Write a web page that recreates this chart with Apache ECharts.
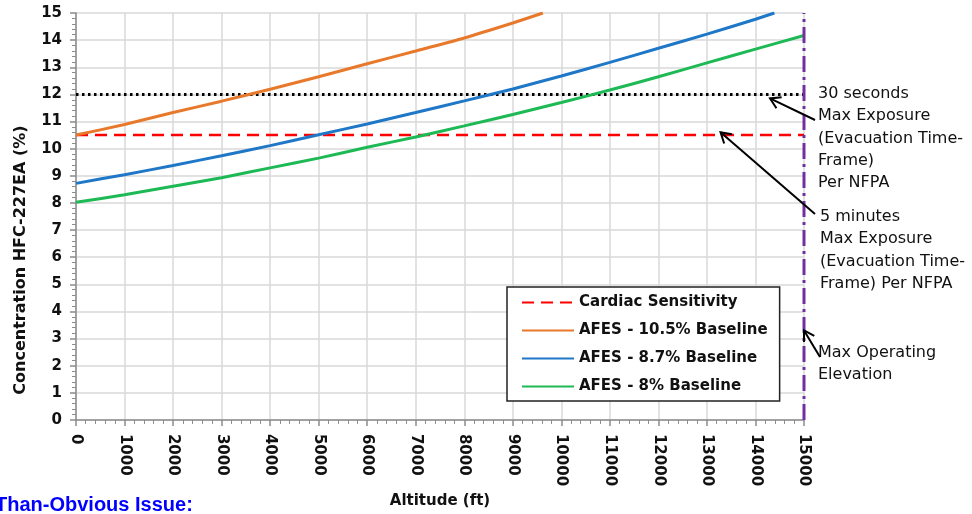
<!DOCTYPE html>
<html>
<head>
<meta charset="utf-8">
<script src="https://cdn.jsdelivr.net/npm/echarts@6/dist/echarts.min.js"></script>
<style>
html,body{margin:0;padding:0;background:#fff;}
#c{width:972px;height:514px;}
</style>
</head>
<body>
<div id="c"></div>
<script>
// ---- data ----
const afes105 = [[0,10.5],[1000,10.89],[2000,11.33],[3000,11.75],[4000,12.19],[5000,12.65],[6000,13.13],[7000,13.6],[8000,14.08],[9000,14.63],[9620,15.0]];
const afes87  = [[0,8.72],[1000,9.04],[2000,9.38],[3000,9.74],[4000,10.11],[5000,10.51],[6000,10.91],[7000,11.33],[8000,11.76],[9000,12.2],[10000,12.68],[11000,13.18],[12000,13.7],[13000,14.22],[14000,14.77],[14390,15.0]];
const afes8   = [[0,8.02],[1000,8.3],[2000,8.61],[3000,8.93],[4000,9.29],[5000,9.65],[6000,10.05],[7000,10.43],[8000,10.84],[9000,11.26],[10000,11.7],[11000,12.16],[12000,12.65],[13000,13.16],[14000,13.67],[15000,14.17]];
const cardiacLevel = 10.5;
const thirtySecLevel = 12;
const maxElevation = 15000;
const yMax = 15;
const seriesNames = ['Cardiac Sensitivity','AFES - 10.5% Baseline','AFES - 8.7% Baseline','AFES - 8% Baseline'];
const annot30s = ['30 seconds','Max Exposure','(Evacuation Time-','Frame)','Per NFPA'];
const annot5m = ['5 minutes','Max Exposure','(Evacuation Time-','Frame) Per NFPA'];
const annotElev = ['Max Operating','Elevation'];

const chart = echarts.init(document.getElementById('c'), null, {renderer:'canvas'});
const FONT = 'DejaVu Sans';
const option = {
  animation:false,
  backgroundColor:'#fff',
  grid:{left:76, right:168, top:13, bottom:92, containLabel:false},
  xAxis:{
    type:'value', min:0, max:15000, interval:1000,
    axisLine:{show:true, onZero:false, lineStyle:{color:'#8c8c8c', width:1.5}},
    axisTick:{show:true, length:6, lineStyle:{color:'#8c8c8c', width:1.5}},
    minorTick:{show:true, splitNumber:5, length:4, lineStyle:{color:'#8c8c8c'}},
    splitLine:{show:true, lineStyle:{color:'#d9d9d9', width:1.5}},
    axisLabel:{rotate:-90, margin:14, fontFamily:FONT, fontWeight:'bold', fontSize:15, color:'#111',
      formatter:v=>String(v)},
    name:'Altitude (ft)', nameLocation:'middle', nameGap:67,
    nameTextStyle:{fontFamily:FONT, fontWeight:'bold', fontSize:15, color:'#111'}
  },
  yAxis:{
    type:'value', min:0, max:yMax, interval:1,
    axisLine:{show:true, lineStyle:{color:'#8c8c8c', width:1.5}},
    axisTick:{show:true, length:6, lineStyle:{color:'#8c8c8c', width:1.5}},
    minorTick:{show:true, splitNumber:5, length:4, lineStyle:{color:'#8c8c8c'}},
    splitLine:{show:true, lineStyle:{color:'#d9d9d9', width:1.5}},
    axisLabel:{margin:14, fontFamily:FONT, fontWeight:'bold', fontSize:15, color:'#111'}
  },
  legend:{
    data:seriesNames, orient:'vertical', left:507, top:287,
    padding:[8,12,7,14], itemGap:13, itemWidth:52, itemHeight:14,
    backgroundColor:'#fff', borderColor:'#222', borderWidth:1.5, borderRadius:0,
    textStyle:{fontFamily:FONT, fontWeight:'bold', fontSize:15, lineHeight:14, color:'#111'},
    itemStyle:{opacity:0},
    selectedMode:false
  },
  series:[
    {name:seriesNames[0], type:'line', symbol:'none', color:'#ff0000', z:3,
     data:[[0,cardiacLevel],[maxElevation,cardiacLevel]],
     lineStyle:{color:'#ff0000', width:2.5, type:[12,7]}},
    {name:seriesNames[1], type:'line', symbol:'none', color:'#e8792a', smooth:0.2, z:4,
     data:afes105, lineStyle:{color:'#e8792a', width:3}},
    {name:seriesNames[2], type:'line', symbol:'none', color:'#1f77c8', smooth:0.2, z:4,
     data:afes87, lineStyle:{color:'#1f77c8', width:3}},
    {name:seriesNames[3], type:'line', symbol:'none', color:'#1db954', smooth:0.2, z:4,
     data:afes8, lineStyle:{color:'#1db954', width:3}},
    {name:'30s', type:'line', symbol:'none', z:3,
     data:[[0,thirtySecLevel],[maxElevation,thirtySecLevel]],
     lineStyle:{color:'#000', width:3, type:[2.5,3.5]}},
    {name:'maxElev', type:'line', symbol:'none', z:5,
     data:[[maxElevation,0],[maxElevation,yMax]],
     lineStyle:{color:'#7030a0', width:3, type:[16,5,3,5]}}
  ]
};
chart.setOption(option);

function addAnnotations(){
  const P = (x,y)=>chart.convertToPixel({gridIndex:0},[x,y]);
  const els = [];
  const textStyle = {font:'16px "DejaVu Sans"', fill:'#111', textVerticalAlign:'middle'};
  function block(lines, x, y0, lh){
    lines.forEach((t,i)=>els.push({type:'text', x:x, y:y0+i*lh, style:Object.assign({text:t}, textStyle)}));
  }
  block(annot30s, 818, 94, 22.2);
  block(annot5m, 820, 217, 22.2);
  block(annotElev, 818, 353, 21.5);
  function arrow(from, tip){
    const dx = from[0]-tip[0], dy = from[1]-tip[1];
    const L = Math.hypot(dx,dy), ux=dx/L, uy=dy/L;
    const hl=10, hw=6;
    const bx = tip[0]+ux*hl, by = tip[1]+uy*hl;
    const px=-uy, py=ux;
    els.push({type:'line', shape:{x1:from[0],y1:from[1],x2:tip[0],y2:tip[1]}, style:{stroke:'#000', lineWidth:2}, z:10});
    els.push({type:'polyline', shape:{points:[[bx+px*hw,by+py*hw],[tip[0],tip[1]],[bx-px*hw,by-py*hw]]}, style:{stroke:'#000', lineWidth:2, fill:null}, z:10});
  }
  arrow([815,120], P(14300, 11.85));
  arrow([815,214], P(13280, 10.6));
  arrow([820,357], P(15000, 3.3));
  els.push({type:'text', x:21, y:260, rotation:Math.PI/2,
    style:{text:'Concentration HFC-227EA (%)', font:'bold 16px "DejaVu Sans"', fill:'#111', textAlign:'center', textVerticalAlign:'middle'}});
  els.push({type:'text', x:-5, y:505,
    style:{text:'Than-Obvious Issue:', font:'bold 20px "Liberation Sans"', fill:'#0000ff', textVerticalAlign:'middle'}});
  chart.setOption({graphic:els});
}
addAnnotations();
</script>
</body>
</html>
